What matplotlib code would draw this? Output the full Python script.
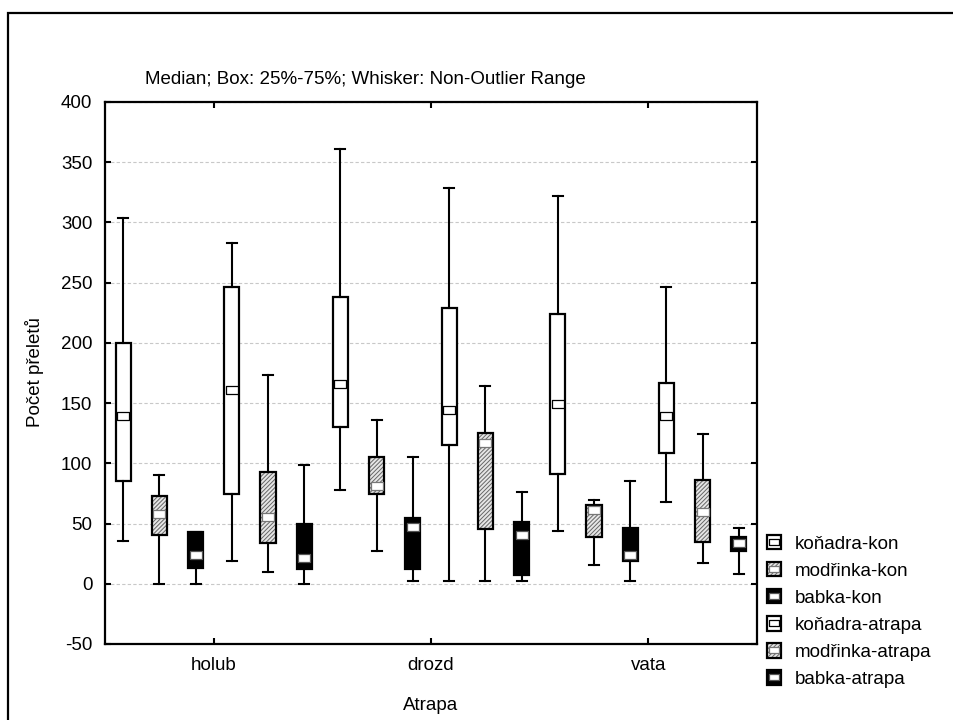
import numpy as np
import matplotlib
matplotlib.use("Agg")
import matplotlib.pyplot as plt
from matplotlib.patches import Patch, Rectangle
from matplotlib.lines import Line2D
from matplotlib.legend_handler import HandlerTuple
from matplotlib.colors import to_rgba

plt.rcParams["font.family"] = ["Liberation Sans", "DejaVu Sans"]
plt.rcParams["hatch.linewidth"] = 0.7
plt.rcParams["axes.unicode_minus"] = False

categories = ["holub", "drozd", "vata"]
series = ["koňadra-kon", "modřinka-kon", "babka-kon",
          "koňadra-atrapa", "modřinka-atrapa", "babka-atrapa"]

# values per series, one per category (holub, drozd, vata)
medians = [[139, 166, 149], [57.7, 81.4, 61.3], [23.7, 47.5, 23.7],
           [161, 144, 139], [55.7, 117, 59.3], [21.8, 40.6, 33.7]]
q1 = [[85, 130, 91], [40.6, 74.5, 39], [13, 12, 19],
      [74.5, 115, 108.5], [34, 45.5, 34.5], [12, 7, 27]]
q3 = [[200, 238, 224], [73, 105, 65], [43, 54.5, 46.5],
      [246, 229, 166.5], [93, 125.5, 86.5], [50, 51, 39]]
whis_lo = [[35.5, 78, 44], [0, 27, 15.5], [0, 2, 2],
           [19, 2, 68], [10, 2, 17], [0, 2, 8.5]]
whis_hi = [[304, 361, 322], [90, 136, 69.5], [43, 105, 85],
           [283, 329, 246], [173, 164.5, 124], [98.5, 76.5, 46]]

# white / hatched / black, repeated for kon and atrapa
styles = ["white", "hatch", "black"] * 2

rect_marker = [(-1.4, -1), (1.4, -1), (1.4, 1), (-1.4, 1), (-1.4, -1)]
fs = 13.5


def set_hatch_color(p, c):
    try:
        p.set_hatchcolor(c)
    except AttributeError:
        p._hatch_color = to_rgba(c)


def style_props(st):
    if st == "white":
        return dict(facecolor="white", edgecolor="black", hatch=None), "black"
    if st == "hatch":
        return dict(facecolor="#e6e6e6", edgecolor="black", hatch="////////"), "#777777"
    return dict(facecolor="black", edgecolor="black", hatch=None), "#555555"


fig = plt.figure(figsize=(9.54, 7.2), dpi=100)
ax = fig.add_axes([105 / 954, 1 - 644 / 720, 652 / 954, 542 / 720])

cat_pos = np.arange(1, len(categories) + 1)
offsets = (np.arange(len(series)) - 2.5) / 6
box_w = 0.07

handles = []
for i, name in enumerate(series):
    stats = []
    for j in range(len(categories)):
        stats.append(dict(med=medians[i][j], mean=medians[i][j],
                          q1=q1[i][j], q3=q3[i][j],
                          whislo=whis_lo[i][j], whishi=whis_hi[i][j],
                          fliers=[]))
    props, mk_edge = style_props(styles[i])
    res = ax.bxp(stats, positions=cat_pos + offsets[i], widths=box_w,
                 capwidths=0.046, patch_artist=True, showmeans=True,
                 manage_ticks=False,
                 boxprops=dict(linewidth=1.6, **props),
                 whiskerprops=dict(color="black", linewidth=1.5),
                 capprops=dict(color="black", linewidth=1.5),
                 medianprops=dict(visible=False),
                 meanprops=dict(marker=rect_marker, markersize=8.5,
                                markerfacecolor="white", markeredgecolor=mk_edge,
                                markeredgewidth=0.9, linestyle="none", zorder=5))
    for b in res["boxes"]:
        if styles[i] == "hatch":
            set_hatch_color(b, "#666666")
    p = Patch(linewidth=1.6, **props)
    if styles[i] == "hatch":
        set_hatch_color(p, "#666666")
    m = Line2D([], [], marker=rect_marker, markersize=7, linestyle="none",
               markerfacecolor="white", markeredgecolor=mk_edge, markeredgewidth=0.9)
    handles.append((p, m))

ax.set_xlim(0.5, 3.5)
ax.set_ylim(-50, 400)
ax.set_yticks(np.arange(-50, 401, 50))
ax.set_xticks(cat_pos)
ax.set_xticklabels(categories)
ax.yaxis.grid(True, color="#c8c8c8", linestyle=(0, (3, 2)), linewidth=0.8)
ax.set_axisbelow(True)
ax.tick_params(direction="in", top=True, right=True, length=4, width=1.5,
               labelsize=fs)
ax.tick_params(axis="y", pad=9)
ax.tick_params(axis="x", pad=9)
for s in ax.spines.values():
    s.set_linewidth(1.6)

fig.text(145 / 954, 1 - 79 / 720, "Median; Box: 25%-75%; Whisker: Non-Outlier Range",
         fontsize=fs, ha="left", va="center")
fig.text(35 / 954, 1 - 372 / 720, "Počet přeletů", fontsize=fs,
         rotation=90, ha="center", va="center")
fig.text(431 / 954, 1 - 705 / 720, "Atrapa", fontsize=fs, ha="center", va="center")

fig.legend(handles, series, handler_map={tuple: HandlerTuple(ndivide=1)},
           loc="upper left", bbox_to_anchor=(767 / 954, 1 - 535 / 720),
           frameon=False, fontsize=fs, handlelength=0.75, handleheight=0.8,
           handletextpad=0.75, labelspacing=0.5, borderaxespad=0, borderpad=0)

# outer frame of the exported graph
fig.patches.append(Rectangle((8 / 954, -0.1), 1.2, 1.1 - 13 / 720, fill=False,
                             linewidth=1.6, edgecolor="black",
                             transform=fig.transFigure, figure=fig))

fig.savefig("out.png", dpi=100)
